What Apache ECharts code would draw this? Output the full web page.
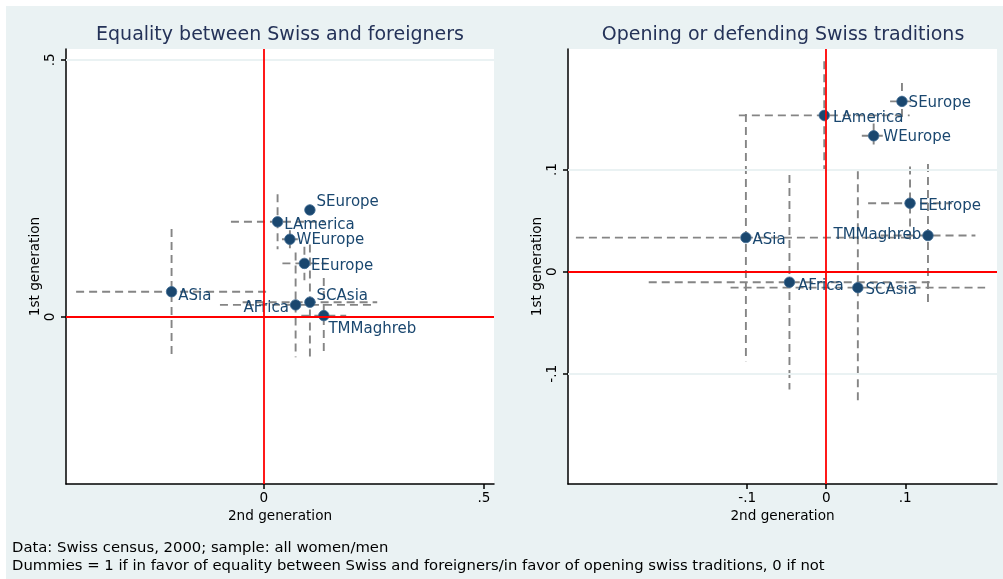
<!DOCTYPE html>
<html>
<head>
<meta charset="utf-8">
<script src="https://cdn.jsdelivr.net/npm/echarts@6/dist/echarts.min.js"></script>
<style>
  html, body { margin: 0; padding: 0; background: #fff; }
  #chart { position: absolute; left: 6px; top: 6px; width: 997px; height: 573px; }
</style>
</head>
<body>
<div id="chart"></div>
<script>
// groups shown in both panels
const regions = ["SEurope", "LAmerica", "WEurope", "EEurope", "ASia", "SCAsia", "AFrica", "TMMaghreb"];

// panel 1: equality between Swiss and foreigners
const eqSecond = [0.1045, 0.031, 0.059, 0.092, -0.21, 0.1045, 0.072, 0.136];
const eqFirst = [0.208, 0.185, 0.151, 0.104, 0.049, 0.0286, 0.0233, 0.0025];
const eqErrSecond = [0.011, 0.106, 0.018, 0.05, 0.217, 0.153, 0.172, 0.051];
const eqErrFirst = [0.01, 0.0535, 0.0175, 0.0325, 0.122, 0.112, 0.102, 0.073];

// panel 2: opening or defending Swiss traditions
const trSecond = [0.0958, -0.0025, 0.06, 0.106, -0.1016, 0.04, -0.0465, 0.1287];
const trFirst = [0.1667, 0.153, 0.133, 0.067, 0.0333, -0.0157, -0.0104, 0.0353];
const trErrSecond = [0.015, 0.108, 0.015, 0.053, 0.215, 0.161, 0.178, 0.06];
const trErrFirst = [0.018, 0.053, 0.012, 0.036, 0.121, 0.114, 0.105, 0.07];

// tick labels
const eqXTicks = [0, 0.5];
const eqYTicks = [0, 0.5];
const trXTicks = [-0.1, 0, 0.1];
const trYTicks = [-0.1, 0, 0.1];

// label placement per marker (position, offset)
const eqLabelPlace = {
  SEurope: ["right", [0, -8]], LAmerica: ["right", [0, 3]], WEurope: ["right", [0, 1]],
  EEurope: ["right", [0, 3]], ASia: ["right", [0, 4]], SCAsia: ["right", [0, -6]],
  AFrica: ["left", [0, 3]], TMMaghreb: ["right", [-2, 14]],
};
const trLabelPlace = {
  SEurope: ["right", [0, 2]], LAmerica: ["right", [2, 3]], WEurope: ["right", [3, 1]],
  EEurope: ["right", [2, 3]], ASia: ["right", [0, 3]], SCAsia: ["right", [1, 2]],
  AFrica: ["right", [2, 4]], TMMaghreb: ["left", [0, 0]],
};

const NAVY = "#1a476f";
const FONT = "DejaVu Sans, sans-serif";

const fmtTick = (v) => (v === 0 ? "0" : String(v).replace("0.", "."));

const chart = echarts.init(document.getElementById("chart"));

const makeAxisX = (idx, min, max, ticks) => ({
  type: "value", gridIndex: idx, min: min, max: max,
  name: "2nd generation", nameLocation: "middle", nameGap: 23,
  nameTextStyle: { color: "#000", fontSize: 13.6, fontFamily: FONT },
  axisLine: { onZero: false, lineStyle: { color: "#000", width: 1.5 } },
  axisTick: { customValues: ticks, length: 5, lineStyle: { color: "#000", width: 1.5 } },
  axisLabel: { customValues: ticks, formatter: fmtTick, color: "#000", fontSize: 13.6, fontFamily: FONT, margin: 7 },
  splitLine: { show: false },
});

const makeAxisY = (idx, min, max, ticks) => ({
  type: "value", gridIndex: idx, min: min, max: max,
  name: "1st generation", nameLocation: "middle", nameGap: 24,
  nameTextStyle: { color: "#000", fontSize: 13.6, fontFamily: FONT },
  axisLine: { show: true, onZero: false, lineStyle: { color: "#000", width: 1.5 } },
  axisTick: { show: true, customValues: ticks, length: 5, lineStyle: { color: "#000", width: 1.5 } },
  axisLabel: { customValues: ticks, formatter: fmtTick, rotate: 90, color: "#000", fontSize: 13.6, fontFamily: FONT, margin: 9 },
  splitLine: { show: false },
});

const errorBars = (xs, ys, exs, eys, idx) => ({
  type: "custom", xAxisIndex: idx, yAxisIndex: idx, z: 2, clip: true, silent: true,
  data: xs.map((x, i) => [x, ys[i], exs[i], eys[i]]),
  renderItem: function (params, api) {
    const x = api.value(0), y = api.value(1), ex = api.value(2), ey = api.value(3);
    const a = api.coord([x - ex, y]), b = api.coord([x + ex, y]);
    const c = api.coord([x, y + ey]), d = api.coord([x, y - ey]);
    const style = { stroke: "#858585", lineWidth: 1.9, lineDash: [8, 5], fill: null };
    return {
      type: "group",
      children: [
        { type: "line", shape: { x1: a[0], y1: a[1], x2: b[0], y2: b[1] }, style: style },
        { type: "line", shape: { x1: c[0], y1: c[1], x2: d[0], y2: d[1] }, style: style },
      ],
    };
  },
});

const refLines = (idx, gridVals) => ({
  type: "scatter", xAxisIndex: idx, yAxisIndex: idx, z: 1, data: [], silent: true,
  markLine: {
    silent: true, symbol: "none", animation: false, label: { show: false },
    data: gridVals.map((v) => ({ yAxis: v, lineStyle: { color: "#eaf2f3", width: 2, type: "solid" } }))
      .concat([
        { xAxis: 0, lineStyle: { color: "#ff0000", width: 1.8, type: "solid" } },
        { yAxis: 0, lineStyle: { color: "#ff0000", width: 1.8, type: "solid" } },
      ]),
  },
});

const points = (xs, ys, place, idx) => ({
  type: "scatter", xAxisIndex: idx, yAxisIndex: idx, z: 3,
  symbolSize: 10.5,
  itemStyle: { color: NAVY, borderColor: "#3d6a92", borderWidth: 0.8, opacity: 1 },
  data: xs.map((x, i) => ({
    name: regions[i],
    value: [x, ys[i]],
    label: {
      show: true, formatter: regions[i], position: place[regions[i]][0], offset: place[regions[i]][1],
      distance: 1, color: NAVY, fontSize: 15, fontFamily: FONT,
    },
  })),
});

const option = {
  backgroundColor: "#eaf2f3",
  animation: false,
  grid: [
    { left: 60, top: 43, width: 428, height: 435, show: true, backgroundColor: "#fff", borderWidth: 0 },
    { left: 562, top: 43, width: 429, height: 435, show: true, backgroundColor: "#fff", borderWidth: 0 },
  ],
  xAxis: [makeAxisX(0, -0.45, 0.523, eqXTicks), makeAxisX(1, -0.3266, 0.216, trXTicks)],
  yAxis: [makeAxisY(0, -0.325, 0.521, eqYTicks), makeAxisY(1, -0.208, 0.218, trYTicks)],
  graphic: [
    { type: "text", x: 274, y: 29, style: { text: "Equality between Swiss and foreigners", fill: "#243258", font: "19px " + FONT, textAlign: "center", textVerticalAlign: "middle" } },
    { type: "text", x: 777, y: 29, style: { text: "Opening or defending Swiss traditions", fill: "#243258", font: "19px " + FONT, textAlign: "center", textVerticalAlign: "middle" } },
    { type: "text", x: 6, y: 542, style: { text: "Data: Swiss census, 2000; sample: all women/men", fill: "#000", font: "14.8px " + FONT, textVerticalAlign: "middle" } },
    { type: "text", x: 6, y: 560, style: { text: "Dummies = 1 if in favor of equality between Swiss and foreigners/in favor of opening swiss traditions, 0 if not", fill: "#000", font: "14.8px " + FONT, textVerticalAlign: "middle" } },
  ],
  series: [
    refLines(0, [0.5]),
    refLines(1, [0.1, -0.1]),
    errorBars(eqSecond, eqFirst, eqErrSecond, eqErrFirst, 0),
    errorBars(trSecond, trFirst, trErrSecond, trErrFirst, 1),
    points(eqSecond, eqFirst, eqLabelPlace, 0),
    points(trSecond, trFirst, trLabelPlace, 1),
  ],
};

chart.setOption(option);
</script>
</body>
</html>
